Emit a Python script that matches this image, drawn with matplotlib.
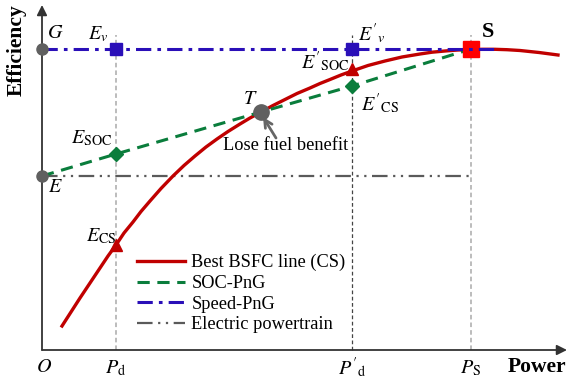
import matplotlib
matplotlib.use("Agg")
import matplotlib.pyplot as plt

plt.rcParams['font.family'] = ['Liberation Serif', 'DejaVu Serif']
plt.rcParams['mathtext.fontset'] = 'stix'

# power / efficiency in arbitrary schematic units
p_d = 74
p_d2 = 310
p_s = 429
eff_g = 301
eff_e = 174

# best BSFC line (CS)
bsfc_p = [20, 29, 38, 48, 58, 66, 74, 82, 91, 99, 108, 119, 131, 142, 153, 164, 175, 186, 198, 208,
          219, 231, 243, 255, 268, 278, 288, 299, 310, 326, 343, 360, 378, 390, 403, 416, 429, 441,
          453, 465, 478, 497, 516]
bsfc_eff = [24, 38, 52, 67, 82, 94, 105, 117, 128, 138.5, 149, 161.5, 174, 184.5, 194, 203, 211,
            218.5, 226, 232, 238, 244.5, 250.5, 256.5, 262, 266.5, 270.5, 275, 279, 284.5, 289,
            293, 296, 297.8, 299, 300, 300.5, 300.7, 300.7, 300.3, 299.5, 297.5, 295]

# SOC-PnG line: E -> E_SOC -> T -> E'_CS -> S
soc_p = [0, p_d, 219, p_d2, p_s]
soc_eff = [eff_e, 196, 238, 264, eff_g]

# speed-PnG and electric lines
speed_p = [0, 453]
speed_eff = [eff_g, eff_g]
elec_p = [0, p_s]
elec_eff = [eff_e, eff_e]

# marker points
ecs = (p_d, 105)
esoc2 = (p_d2, 281)
t_pt = (219, 238)

red = '#c00000'
green = '#0a7d3c'
blue = '#2a0fb8'
grey = '#5a5a5a'

fig = plt.figure(figsize=(5.7, 3.85), dpi=100)
ax = fig.add_axes([0, 0, 1, 1])
ax.set_xlim(-42, 528)
ax.set_ylim(-35, 350)
ax.axis('off')

# vertical guides
ax.plot([p_d, p_d], [0, 315], ls=(0, (3, 2)), color='#aaaaaa', lw=1.1, zorder=1)
ax.plot([p_d2, p_d2], [0, 315], ls=(0, (3, 2)), color='#444444', lw=0.9, zorder=1)
ax.plot([p_s, p_s], [0, 315], ls=(0, (3, 2)), color='#aaaaaa', lw=1.1, zorder=1)

ax.plot(elec_p, elec_eff, color=grey, lw=1.6, ls=(0, (7, 2.5, 1, 2.5, 1, 2.5)),
        label='Electric powertrain', zorder=2)
ax.plot(bsfc_p, bsfc_eff, color=red, lw=2.4, label='Best BSFC line (CS)', zorder=3)
ax.plot(soc_p, soc_eff, color=green, lw=2.2, ls=(0, (4, 2.5)), label='SOC-PnG', zorder=3)
ax.plot(speed_p, speed_eff, color=blue, lw=2.2, ls=(0, (5, 2, 1.2, 2)), label='Speed-PnG', zorder=4)

# markers
ax.plot(p_s, eff_g, 's', color='#ff0000', ms=12, zorder=3.5)
ax.plot([p_d, p_d2], [eff_g, eff_g], 's', color=blue, ms=8, zorder=5)
ax.plot([p_d, p_d2], [196, 264], 'D', color=green, ms=7, zorder=5)
ax.plot([ecs[0], esoc2[0]], [ecs[1], esoc2[1]], '^', color=red, ms=8, zorder=5)
ax.plot([0, 0], [eff_g, eff_e], 'o', color='#606060', ms=8, zorder=6)
ax.plot(t_pt[0], t_pt[1], 'o', color='#606060', ms=11, zorder=6)

# axes arrows
arr = dict(arrowstyle='-|>', color='#333333', lw=1.3, mutation_scale=15,
           shrinkA=0, shrinkB=0)
ax.annotate('', xy=(525, 0), xytext=(0, 0), arrowprops=arr)
ax.annotate('', xy=(0, 345), xytext=(0, 0), arrowprops=arr)

ax.annotate('', xy=(221, 233), xytext=(234, 212),
            arrowprops=dict(arrowstyle='->', color='#666666', lw=2,
                            mutation_scale=14, shrinkA=0, shrinkB=0))

fs = 14.5
ax.text(-25, 300, 'Efficiency', rotation=90, fontsize=15.5, fontweight='bold',
        ha='center', va='center')
ax.text(495, -17, 'Power', fontsize=15.5, fontweight='bold', ha='center', va='center')
ax.text(446, 318, 'S', fontsize=16, fontweight='bold', ha='center', va='center')
ax.text(2, -18, r'$O$', fontsize=fs, ha='center', va='center')
ax.text(p_d, -18, r'$P_{\mathrm{d}}$', fontsize=fs, ha='center', va='center')
ax.text(p_d2, -18, r"$P'_{\mathrm{d}}$", fontsize=fs, ha='center', va='center')
ax.text(p_s, -18, r'$P_{\mathrm{S}}$', fontsize=fs, ha='center', va='center')
ax.text(13, 317, r'$G$', fontsize=fs, ha='center', va='center')
ax.text(13, 162, r'$E$', fontsize=fs, ha='center', va='center')
ax.text(56, 316, r'$E_{v}$', fontsize=fs, ha='center', va='center')
ax.text(330, 316, r"$E'_{v}$", fontsize=fs, ha='center', va='center')
ax.text(283, 288, r"$E'_{\mathrm{SOC}}$", fontsize=fs, ha='center', va='center')
ax.text(338, 246, r"$E'_{\mathrm{CS}}$", fontsize=fs, ha='center', va='center')
ax.text(50, 212, r'$E_{\mathrm{SOC}}$', fontsize=fs, ha='center', va='center')
ax.text(59, 114, r'$E_{\mathrm{CS}}$', fontsize=fs, ha='center', va='center')
ax.text(208, 251, r'$T$', fontsize=fs, ha='center', va='center')
ax.text(244, 204, 'Lose fuel benefit', fontsize=13.2, ha='center', va='center')

h, l = ax.get_legend_handles_labels()
order = [1, 2, 3, 0]
ax.legend([h[i] for i in order], [l[i] for i in order], loc='upper left',
          bbox_to_anchor=(0.240, 0.340), frameon=False, fontsize=13.2,
          handlelength=2.65, labelspacing=0.2, handletextpad=0.33,
          borderpad=0, borderaxespad=0)

fig.savefig('out.png', dpi=100)
